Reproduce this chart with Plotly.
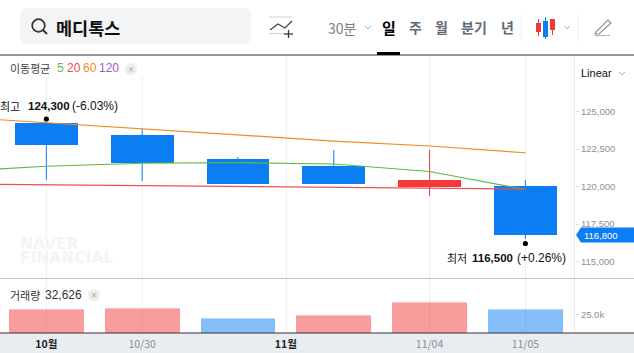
import plotly.graph_objects as go

W, H = 634, 353

# ---- data ----
opens = [124233, 123433, 121833, 121367, 119950, 120033]
closes = [122767, 121567, 120167, 120167, 120433, 116800]
highs = [124300, 123833, 121967, 122433, 122433, 120433]
lows = [120433, 120367, 120167, 120167, 119367, 116500]
ma_x = [-1, 0, 1, 2, 3, 4, 5]
ma_orange = [124660, 124250, 123850, 123450, 123030, 122700, 122250]
ma_green = [120980, 121350, 121550, 121590, 121500, 121000, 119800]
ma_red = [120170, 120120, 120050, 120010, 119950, 119920, 119830]
volumes = [32600, 34000, 20400, 24500, 42100, 32626]
volume_up = [True, True, False, True, True, False]
vol_cap = 1359
tick_prices = [115000, 117500, 120000, 122500, 125000]
tick_prices_text = ["115,000", "117,500", "120,000", "122,500", "125,000"]
tick_dates = [0, 1, 2.5, 4, 5]
tick_dates_text = ['<span style="color:#222222"><b>10월</b></span>', "10/30",
                   '<span style="color:#222222"><b>11월</b></span>', "11/04", "11/05"]

BLUE, RED = "#0b7ef3", "#f13939"
FONT = "Noto Sans CJK KR"
NUM = "Liberation Sans"

idx = list(range(len(opens)))
is_up = [c > o for o, c in zip(opens, closes)]
col = [RED if u else BLUE for u in is_up]

fig = go.Figure()

# wicks
for color, flag in ((BLUE, False), (RED, True)):
    xs, ys = [], []
    for i in idx:
        if is_up[i] == flag:
            xs += [i, i, None]
            ys += [lows[i], highs[i], None]
    fig.add_trace(go.Scatter(x=xs, y=ys, mode="lines", line=dict(color=color, width=1),
                             xaxis="x", yaxis="y", hoverinfo="skip"))
# bodies
fig.add_trace(go.Bar(x=idx, y=[abs(c - o) for o, c in zip(opens, closes)],
                     base=[min(o, c) for o, c in zip(opens, closes)],
                     width=0.656, marker=dict(color=col, line=dict(width=0)),
                     xaxis="x", yaxis="y"))
# moving averages
for vals, c in ((ma_orange, "#f08a1f"), (ma_green, "#5cbc40"), (ma_red, "#ee4f4f")):
    fig.add_trace(go.Scatter(x=ma_x, y=vals, mode="lines", line=dict(color=c, width=1.2),
                             xaxis="x", yaxis="y", hoverinfo="skip"))
# volume
vol_main = ["rgba(241,57,57,.5)" if u else "rgba(11,126,243,.5)" for u in volume_up]
vol_top = ["rgba(241,57,57,.3)" if u else "rgba(11,126,243,.3)" for u in volume_up]
fig.add_trace(go.Bar(x=idx, y=[v - vol_cap for v in volumes], width=0.78,
                     marker=dict(color=vol_main, line=dict(width=0)), xaxis="x2", yaxis="y2"))
fig.add_trace(go.Bar(x=idx, y=[vol_cap] * len(idx), width=0.78,
                     marker=dict(color=vol_top, line=dict(width=0)), xaxis="x2", yaxis="y2"))


def px(x):
    return x / W


def py(y):
    return 1 - y / H


shapes, annos = [], []


def line(x0, y0, x1, y1, color, width=1, layer="above"):
    shapes.append(dict(type="line", xref="paper", yref="paper", x0=px(x0), y0=py(y0), x1=px(x1), y1=py(y1),
                       line=dict(color=color, width=width), layer=layer))


def rect(x0, y0, x1, y1, color, layer="above"):
    shapes.append(dict(type="rect", xref="paper", yref="paper", x0=px(x0), y0=py(y0), x1=px(x1), y1=py(y1),
                       fillcolor=color, line=dict(width=0), layer=layer))


def circle(cx, cy, r, fill, edge=None, width=0):
    shapes.append(dict(type="circle", xref="paper", yref="paper", x0=px(cx - r), y0=py(cy + r), x1=px(cx + r),
                       y1=py(cy - r), fillcolor=fill, line=dict(color=edge or fill, width=width)))


def poly(points, color, width=1, fill=None):
    d = "M" + "L".join(f"{px(a):.5f},{py(b):.5f}" for a, b in points)
    if fill:
        d += "Z"
    shapes.append(dict(type="path", xref="paper", yref="paper", path=d, fillcolor=fill,
                       line=dict(color=color, width=width)))


def text(x, y, s, size=12, color="#333", anchor="left", font=FONT):
    annos.append(dict(xref="paper", yref="paper", x=px(x), y=py(y), text=s, showarrow=False, xanchor=anchor,
                      yanchor="middle", font=dict(size=size, color=color, family=font), borderpad=0, borderwidth=0))


# bottom strip & rules
rect(0, 333, 634, 353, "#e9ecf1", "below")
for gx, gtop in ((46.4, 76), (142.3, 76), (286.5, 56), (429.5, 56), (525.5, 56)):
    line(gx, gtop, gx, 333, "#eeeff1", 1, "below")
line(574.5, 56, 574.5, 333, "#e8eaed", 1, "below")
line(0, 55, 634, 55, "#333333", 1.2)
line(0, 278.5, 634, 278.5, "#c0c5cc", 1.2)
line(0, 333, 634, 333, "#333333", 1.2)
rect(377, 52, 400, 55, "#000000")

# search box
r = 8
x0, y0, x1, y1 = 20, 8, 251, 44
shapes.append(dict(type="path", xref="paper", yref="paper", fillcolor="#f3f4f6", line=dict(width=0), layer="below",
                   path=f"M{px(x0 + r)},{py(y0)}L{px(x1 - r)},{py(y0)}Q{px(x1)},{py(y0)} {px(x1)},{py(y0 + r)}"
                        f"L{px(x1)},{py(y1 - r)}Q{px(x1)},{py(y1)} {px(x1 - r)},{py(y1)}"
                        f"L{px(x0 + r)},{py(y1)}Q{px(x0)},{py(y1)} {px(x0)},{py(y1 - r)}"
                        f"L{px(x0)},{py(y0 + r)}Q{px(x0)},{py(y0)} {px(x0 + r)},{py(y0)}Z"))
circle(38.5, 25.5, 6.3, "rgba(0,0,0,0)", "#333333", 1.7)
line(43, 30, 47, 34, "#333333", 2)
text(56, 27, "<b>메디톡스</b>", 17.5, "#111111")

# indicator icon
line(269, 17, 292, 17, "#d5d7da", 1.2)
line(269, 33.5, 284, 33.5, "#d5d7da", 1.2)
poly([(270, 30), (278, 24), (285, 28), (292, 21)], "#444444", 1.3)
line(284, 34, 293, 34, "#333333", 1.3)
line(288.5, 30, 288.5, 38, "#333333", 1.3)

# period tabs
text(342, 28, "30분", 14, "#7a808a", "center", FONT)
poly([(365, 26), (368, 29), (371, 26)], "#aab0b8", 1)
text(389, 27, "<b>일</b>", 15, "#000000", "center")
text(415, 27, "<b>주</b>", 14, "#636a74", "center")
text(441, 27, "<b>월</b>", 14, "#636a74", "center")
text(474, 27, "<b>분기</b>", 14, "#636a74", "center")
text(507, 27, "<b>년</b>", 14, "#636a74", "center")
line(521, 14, 521, 42, "#eeeff1", 1)
line(578, 14, 578, 42, "#eeeff1", 1)

# candle icon
for cx, t, b, wt, wb, c in ((538.5, 23, 32, 19, 36, RED), (545.5, 21, 37, 17, 39, BLUE), (552.5, 19, 30, 19, 35, RED)):
    line(cx, wt, cx, wb, c, 1)
    rect(cx - 2.5, t, cx + 2.5, b, c)
poly([(564, 26), (567, 29), (570, 26)], "#aab0b8", 1)

# pencil icon
poly([(596, 32), (608, 20), (611, 23), (599, 34), (595, 34), (596, 32)], "#8a8f98", 1.1)
line(595, 35.5, 610, 35.5, "#b5b9bf", 1.2)

# legend
text(10, 68, "이동평균", 11, "#444444")
text(57, 68, "5", 12, "#5cbc40", font=NUM)
text(67, 68, "20", 12, "#ee4f4f", font=NUM)
text(83, 68, "60", 12, "#f08a1f", font=NUM)
text(99, 68, "120", 12, "#9b59d0", font=NUM)
circle(131, 69, 6, "#eeeeee")
text(131, 69, "×", 10, "#a8a8a8", "center", NUM)
text(581, 73, "Linear", 11, "#111111", font=NUM)
poly([(619, 72), (622, 75), (625, 72)], "#aab0b8", 1)

# extremes
text(0, 106, "최고", 11, "#111111")
text(28, 106, "<b>124,300</b>", 11.5, "#111111", font=NUM)
text(72, 106, "(-6.03%)", 12, "#111111", font=NUM)
text(447, 258, "최저", 11, "#111111")
text(472, 258, "<b>116,500</b>", 11.5, "#111111", font=NUM)
text(517, 258, "(+0.26%)", 12, "#111111", font=NUM)
i_hi, i_lo = highs.index(max(highs)), lows.index(min(lows))
for i, val, off in ((i_hi, highs[i_hi], 3), (i_lo, lows[i_lo], -4.5)):
    shapes.append(dict(type="circle", xref="x", yref="y", xsizemode="pixel", ysizemode="pixel", xanchor=i, yanchor=val,
                       x0=-2.6, x1=2.6, y0=off - 2.6, y1=off + 2.6, fillcolor="#000000", line=dict(width=0)))

# watermark
text(20, 243.5, "<b>NAVER</b>", 15.5, "#f3f4f6", font="DejaVu Sans")
text(20, 258, "<b>FINANCIAL</b>", 15.5, "#f3f4f6", font="DejaVu Sans")

# price tag
poly([(576, 235), (581, 227.5), (634, 227.5), (634, 242.5), (581, 242.5)], BLUE, 0, BLUE)
text(584, 235, f"{closes[-1]:,}", 9.5, "#ffffff", font=NUM)

# volume label
text(10, 294.5, "거래량", 11, "#333333")
text(45, 294.5, "32,626", 12, "#333333", font=NUM)
circle(94, 295, 6, "#eeeeee")
text(94, 295, "×", 10, "#a8a8a8", "center", NUM)

X_RANGE = [-0.484, 5.518]
fig.update_layout(
    width=W, height=H, margin=dict(l=0, r=0, t=0, b=0), autosize=False,
    paper_bgcolor="#ffffff", plot_bgcolor="rgba(0,0,0,0)", showlegend=False, barmode="stack",
    shapes=shapes, annotations=annos,
    xaxis=dict(domain=[0, 575 / W], range=X_RANGE, visible=False, anchor="y", fixedrange=True),
    yaxis=dict(domain=[1 - 278 / H, 1 - 56 / H], range=[113900, 128700], side="right", anchor="x",
               tickvals=tick_prices, ticktext=tick_prices_text, showgrid=False, zeroline=False,
               ticks="outside", ticklen=3, tickcolor="#dddddd", showline=False,
               tickfont=dict(size=9.5, color="#8a8f98", family=NUM)),
    xaxis2=dict(domain=[0, 575 / W], range=X_RANGE, anchor="y2", tickvals=tick_dates,
                ticktext=tick_dates_text, showgrid=False, zeroline=False, ticks="", showline=False,
                tickfont=dict(size=10.5, color="#8a8f98", family=FONT), ticklabelstandoff=3),
    yaxis2=dict(domain=[1 - 333 / H, 1 - 279 / H], range=[0, 73400], side="right", anchor="x2",
                tickvals=[25000], ticktext=["25.0k"], showgrid=False, zeroline=False,
                ticks="outside", ticklen=3, tickcolor="#dddddd",
                tickfont=dict(size=9.5, color="#8a8f98", family=NUM)),
)

fig.write_html("out.html", config=dict(displayModeBar=False),
               post_script="document.body.style.margin='0';document.body.style.overflow='hidden';")
